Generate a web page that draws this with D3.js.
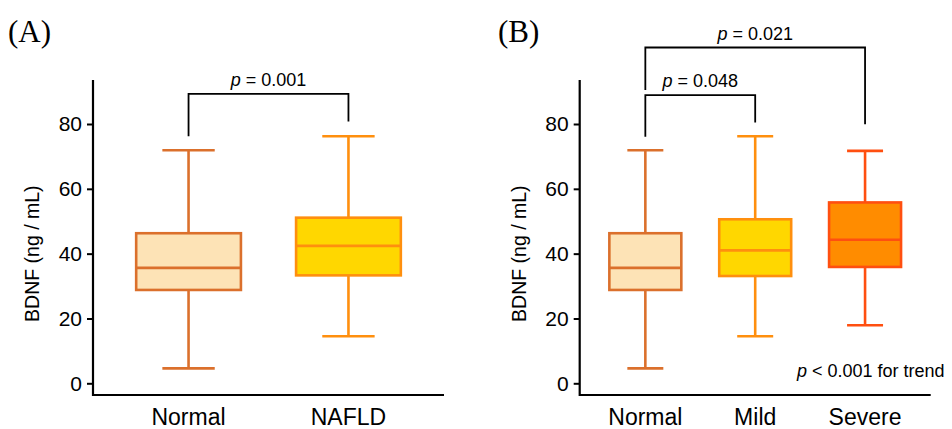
<!DOCTYPE html>
<html>
<head>
<meta charset="utf-8">
<script src="https://cdn.jsdelivr.net/npm/d3@7"></script>
<style>
  body { margin: 0; background: #fff; }
  svg { display: block; font-family: "Liberation Sans", Arial, sans-serif; }
</style>
</head>
<body>
<div id="chart"></div>
<script>
// box stats: [low whisker, q1, median, q3, high whisker]
var groupsA = ["Normal", "NAFLD"];
var statsA = [
    [4.6, 28.8, 35.6, 46.3, 71.9],
    [14.5, 33.3, 42.4, 51.1, 76.2]
];
var groupsB = ["Normal", "Mild", "Severe"];
var statsB = [
    [4.6, 28.8, 35.6, 46.3, 71.9],
    [14.5, 33.1, 41.0, 50.6, 76.2],
    [17.9, 35.9, 44.3, 55.8, 71.7]
];
var yTicks = [0, 20, 40, 60, 80];

// brackets: from, to, top level, left end, right end (data units)
var bracketsA = [
    {from: "Normal", to: "NAFLD", top: 89.3, left: 76.2, right: 80.8, label: "0.001"}
];
var bracketsB = [
    {from: "Normal", to: "Mild", top: 88.9, left: 76.1, right: 80.5, label: "0.048"},
    {from: "Normal", to: "Severe", top: 103.6, left: 90.5, right: 79.9, label: "0.021"}
];

var colors = {
    "Normal": {fill: "#fde3b6", stroke: "#db702c"},
    "NAFLD":  {fill: "#ffd700", stroke: "#ff8f0e"},
    "Mild":   {fill: "#ffd700", stroke: "#ff8f0e"},
    "Severe": {fill: "#ff8c00", stroke: "#ff4f10"}
};

var W = 952, H = 429;
var svg = d3.select("#chart").append("svg")
    .attr("width", W)
    .attr("height", H);

function drawPanel(ox, tagX, groups, stats, brackets, tag) {
    var left = ox, right = ox + 351;
    var x = d3.scaleBand()
        .domain(groups)
        .range([left, right])
        .paddingInner(0.345)
        .paddingOuter(0.27);
    var y = d3.scaleLinear()
        .domain([0, 80])
        .range([383.3, 124]);

    var g = svg.append("g");

    // panel tag
    g.append("text")
        .attr("x", tagX)
        .attr("y", 42)
        .attr("font-family", "'Liberation Serif', 'Times New Roman', serif")
        .attr("font-size", 31)
        .text(tag);

    // y axis
    var yAxis = g.append("g")
        .attr("transform", "translate(" + left + ",0)")
        .call(d3.axisLeft(y).tickValues(yTicks).tickSize(6).tickPadding(5));
    yAxis.select(".domain").remove();
    yAxis.selectAll(".tick line").attr("stroke", "#000").attr("stroke-width", 2);
    yAxis.selectAll(".tick text")
        .attr("font-size", 21)
        .attr("font-family", "'Liberation Sans', Arial, sans-serif")
        .attr("fill", "#000");

    // axis lines
    g.append("path")
        .attr("d", "M" + left + ",80V395H" + right)
        .attr("fill", "none")
        .attr("stroke", "#000")
        .attr("stroke-width", 2.2);

    // y label
    g.append("text")
        .attr("transform", "translate(" + (left - 54) + "," + y(40) + ") rotate(-90)")
        .attr("text-anchor", "middle")
        .attr("font-size", 19.5)
        .text("BDNF (ng / mL)");

    // x labels
    g.selectAll(".xlab")
        .data(groups)
        .enter().append("text")
        .attr("x", function(d) { return x(d) + x.bandwidth() / 2; })
        .attr("y", 425)
        .attr("text-anchor", "middle")
        .attr("font-size", 23)
        .text(function(d) { return d; });

    // boxes
    groups.forEach(function(grp, i) {
        var s = stats[i];
        var c = colors[grp];
        var bw = x.bandwidth();
        var cx = x(grp) + bw / 2;
        var bg = g.append("g")
            .attr("stroke", c.stroke)
            .attr("stroke-width", 2.6);
        bg.append("line")
            .attr("x1", cx).attr("x2", cx)
            .attr("y1", y(s[0])).attr("y2", y(s[4]));
        bg.append("line")
            .attr("x1", cx - bw / 4).attr("x2", cx + bw / 4)
            .attr("y1", y(s[0])).attr("y2", y(s[0]));
        bg.append("line")
            .attr("x1", cx - bw / 4).attr("x2", cx + bw / 4)
            .attr("y1", y(s[4])).attr("y2", y(s[4]));
        bg.append("rect")
            .attr("x", x(grp))
            .attr("y", y(s[3]))
            .attr("width", bw)
            .attr("height", y(s[1]) - y(s[3]))
            .attr("fill", c.fill);
        bg.append("line")
            .attr("x1", x(grp)).attr("x2", x(grp) + bw)
            .attr("y1", y(s[2])).attr("y2", y(s[2]));
    });

    // significance brackets
    brackets.forEach(function(b) {
        var x1 = x(b.from) + x.bandwidth() / 2;
        var x2 = x(b.to) + x.bandwidth() / 2;
        g.append("path")
            .attr("d", "M" + x1 + "," + y(b.left) + "V" + y(b.top) + "H" + x2 + "V" + y(b.right))
            .attr("fill", "none")
            .attr("stroke", "#000")
            .attr("stroke-width", 1.8);
        var t = g.append("text")
            .attr("x", (x1 + x2) / 2)
            .attr("y", y(b.top) - 8)
            .attr("text-anchor", "middle")
            .attr("font-size", 18);
        t.append("tspan").attr("font-style", "italic").text("p");
        t.append("tspan").text(" = " + b.label);
    });

    return g;
}

drawPanel(93, 8, groupsA, statsA, bracketsA, "(A)");
var gB = drawPanel(579.7, 498, groupsB, statsB, bracketsB, "(B)");

var trend = gB.append("text")
    .attr("x", 797)
    .attr("y", 377)
    .attr("font-size", 18);
trend.append("tspan").attr("font-style", "italic").text("p");
trend.append("tspan").text(" < 0.001 for trend");
</script>
</body>
</html>
